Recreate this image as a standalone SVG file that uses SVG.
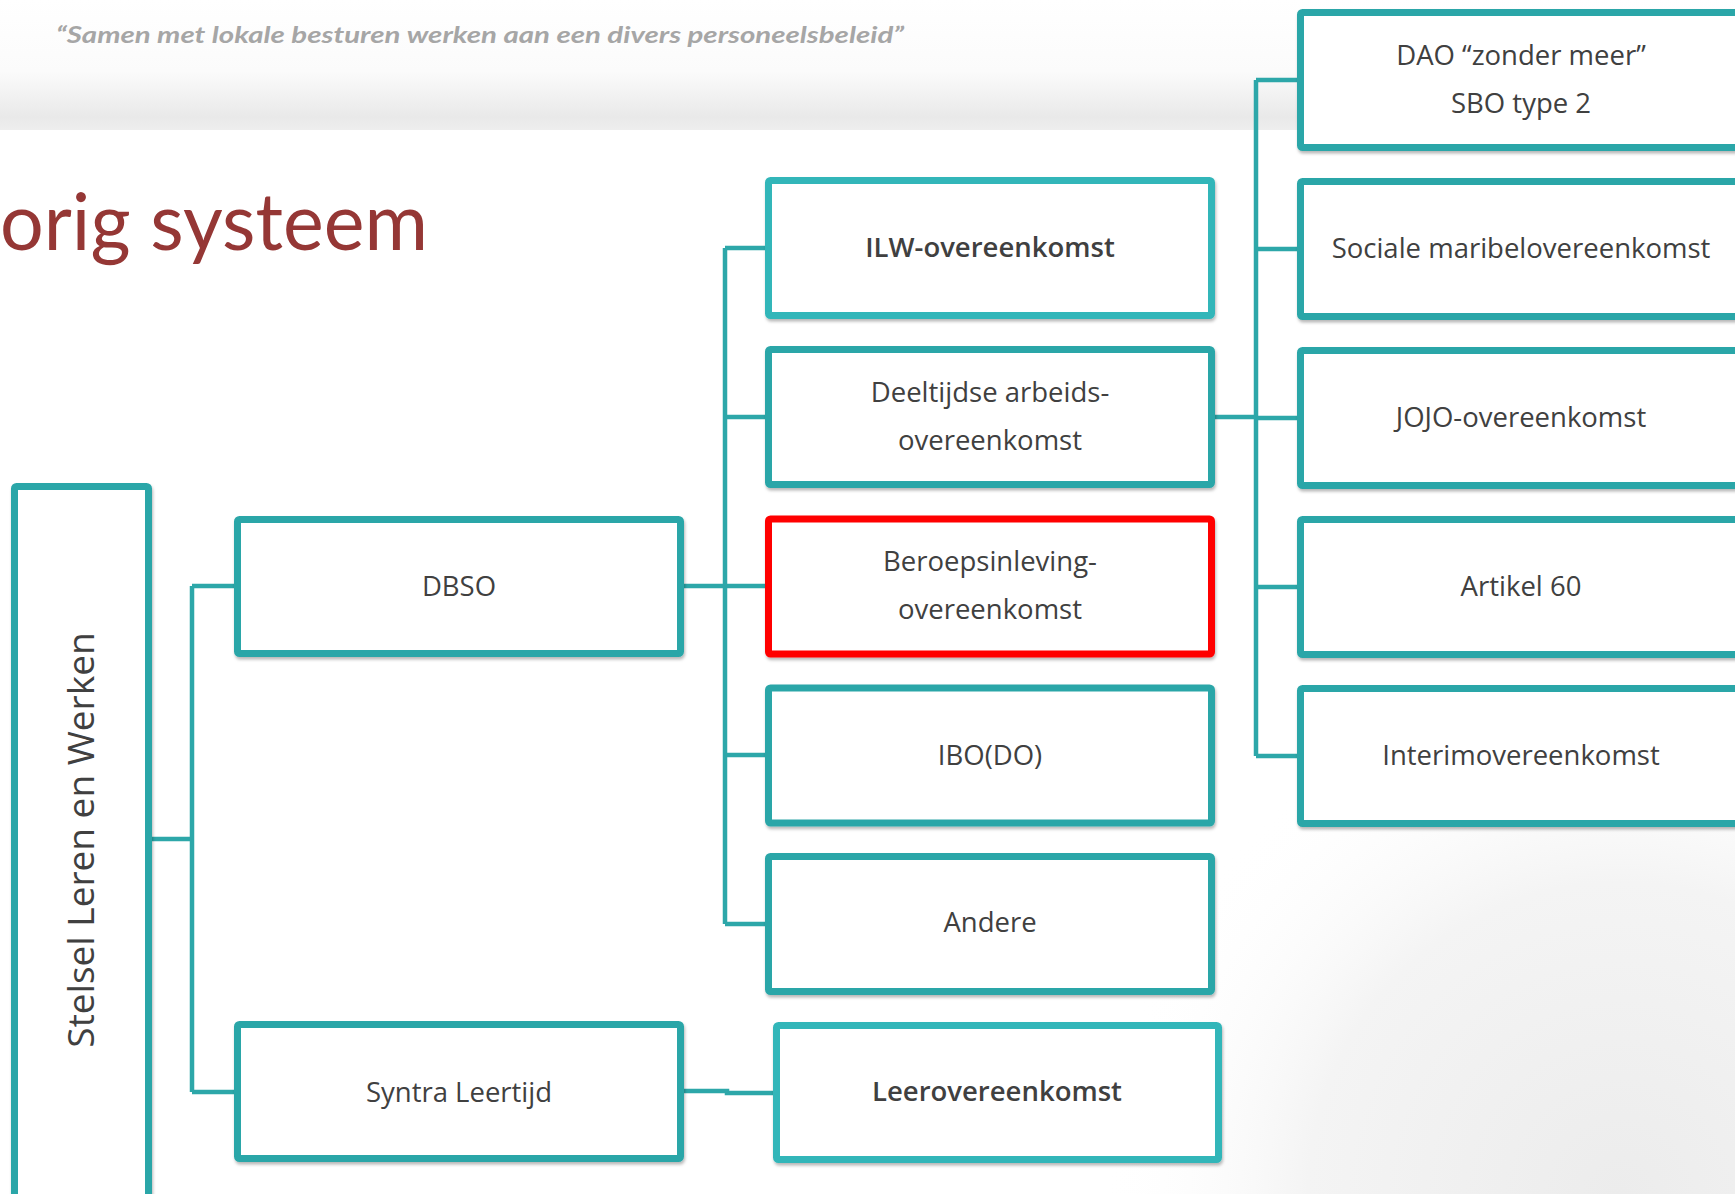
<svg xmlns="http://www.w3.org/2000/svg" width="1735" height="1194" viewBox="0 0 1735 1194">
<defs>
<linearGradient id="hdr" x1="0" y1="0" x2="0" y2="1">
<stop offset="0" stop-color="#ffffff"/>
<stop offset="0.55" stop-color="#fbfbfb"/>
<stop offset="0.9" stop-color="#e9e9e9"/>
<stop offset="1" stop-color="#eeeeee"/>
</linearGradient>
<radialGradient id="br" cx="1620" cy="1194" r="520" gradientUnits="userSpaceOnUse">
<stop offset="0" stop-color="#ececec"/>
<stop offset="0.6" stop-color="#f4f4f4"/>
<stop offset="1" stop-color="#ffffff" stop-opacity="0"/>
</radialGradient>
<filter id="sh" x="-5%" y="-5%" width="110%" height="115%">
<feDropShadow dx="1" dy="2.5" stdDeviation="1.5" flood-color="#000" flood-opacity="0.28"/>
</filter>
<style>
.box{fill:#ffffff;stroke:#2ca6a8;stroke-width:7;filter:url(#sh)}
.lt{stroke:#33b6b9}
.red{stroke:#ff0000}
.lbl{font-family:"Open Sans","DejaVu Sans",sans-serif;font-size:27.5px;fill:#404040;text-anchor:middle}
.b{font-weight:600}
.con{fill:none;stroke:#2da7a9;stroke-width:4.5}
</style>
</defs>
<rect x="0" y="0" width="1735" height="1194" fill="#ffffff"/>
<rect x="0" y="0" width="1735" height="130" fill="url(#hdr)"/>
<rect x="900" y="800" width="835" height="394" fill="url(#br)"/>
<text x="56" y="43" font-family="Lato,'Liberation Sans',sans-serif" font-size="23" font-weight="bold" font-style="italic" fill="#a6a6a6" textLength="848" lengthAdjust="spacingAndGlyphs">“Samen met lokale besturen werken aan een divers personeelsbeleid”</text>
<text x="0" y="250" font-family="Lato,'Open Sans',sans-serif" font-size="80" fill="#953735" textLength="428" lengthAdjust="spacingAndGlyphs">orig systeem</text>

<g id="connectors">
<path class="con" d="M150,839 H192 M192,586 V1092 M192,586 H236 M192,1092 H236"/>
<path class="con" d="M682,586 H725 M725,248 V924 M725,248 H767 M725,417 H767 M725,586 H767 M725,755 H767 M725,924 H767"/>
<path class="con" d="M1213,417 H1256 M1256,80 V756 M1256,80 H1299 M1256,249 H1299 M1256,418 H1299 M1256,587 H1299 M1256,756 H1299"/>
<path class="con" d="M682,1091 H727 V1093 H775"/>
</g>

<g id="stelsel">
<rect class="box" x="14.5" y="486.5" width="134" height="730" rx="2"/>
<text class="lbl" transform="translate(94,840) rotate(-90)" x="0" y="0" style="font-size:37px">Stelsel Leren en Werken</text>
</g>
<g id="dbso">
<rect class="box" x="237.5" y="519.5" width="443" height="134" rx="2"/>
<text class="lbl" x="459" y="596">DBSO</text>
</g>
<g id="syntra">
<rect class="box" x="237.5" y="1024.5" width="443" height="134" rx="2"/>
<text class="lbl" x="459" y="1102">Syntra Leertijd</text>
</g>
<g id="ilw">
<rect class="box lt" x="768.5" y="180.5" width="443" height="135" rx="2"/>
<text class="lbl b" x="990" y="257">ILW-overeenkomst</text>
</g>
<g id="deeltijdse">
<rect class="box" x="768.5" y="349.5" width="443" height="135" rx="2"/>
<text class="lbl" x="990" y="402">Deeltijdse arbeids-</text>
<text class="lbl" x="990" y="450">overeenkomst</text>
</g>
<g id="beroepsinleving">
<rect class="box red" x="768.5" y="519" width="443" height="135" rx="2"/>
<text class="lbl" x="990" y="571">Beroepsinleving-</text>
<text class="lbl" x="990" y="619">overeenkomst</text>
</g>
<g id="ibodo">
<rect class="box" x="768.5" y="688" width="443" height="135" rx="2"/>
<text class="lbl" x="990" y="765">IBO(DO)</text>
</g>
<g id="andere">
<rect class="box" x="768.5" y="856.5" width="443" height="135" rx="2"/>
<text class="lbl" x="990" y="932">Andere</text>
</g>
<g id="leerovereenkomst">
<rect class="box lt" x="776.5" y="1025.5" width="442" height="134" rx="2"/>
<text class="lbl b" x="997" y="1101">Leerovereenkomst</text>
</g>
<g id="dao">
<rect class="box" x="1300.5" y="12.5" width="441" height="135" rx="2"/>
<text class="lbl" x="1521" y="65">DAO “zonder meer”</text>
<text class="lbl" x="1521" y="113">SBO type 2</text>
</g>
<g id="maribel">
<rect class="box" x="1300.5" y="181.5" width="441" height="135" rx="2"/>
<text class="lbl" x="1521" y="258">Sociale maribelovereenkomst</text>
</g>
<g id="jojo">
<rect class="box" x="1300.5" y="350.5" width="441" height="135" rx="2"/>
<text class="lbl" x="1521" y="427">JOJO-overeenkomst</text>
</g>
<g id="artikel60">
<rect class="box" x="1300.5" y="519.5" width="441" height="135" rx="2"/>
<text class="lbl" x="1521" y="596">Artikel 60</text>
</g>
<g id="interim">
<rect class="box" x="1300.5" y="688.5" width="441" height="135" rx="2"/>
<text class="lbl" x="1521" y="765">Interimovereenkomst</text>
</g>
</svg>
